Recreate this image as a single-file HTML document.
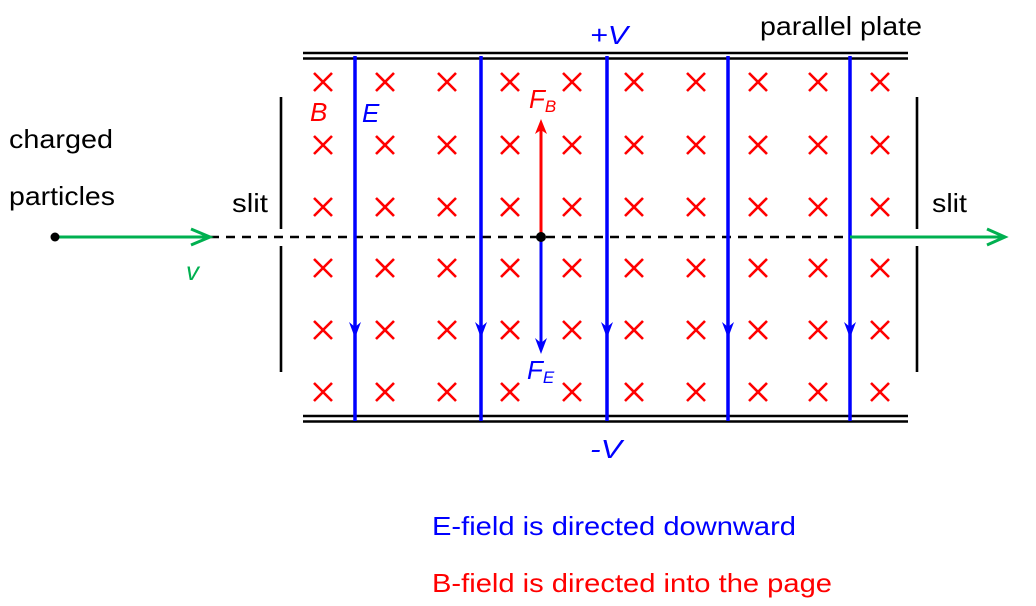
<!DOCTYPE html>
<html><head><meta charset="utf-8"><style>
html,body{margin:0;padding:0;background:#fff;width:1036px;height:606px;overflow:hidden}
svg{display:block}
text{font-family:"Liberation Sans",Arial,sans-serif;font-size:26px}
</style></head><body>
<svg width="1036" height="606" viewBox="0 0 1036 606" xmlns="http://www.w3.org/2000/svg">
<defs>
<g id="x"><path d="M-9,-9L9,9M9,-9L-9,9" stroke="#ff0000" stroke-width="2.6" fill="none"/></g>
<g id="ah"><path d="M-6,-12L0,4L6,-12L0,-7Z" fill="#0000ff"/></g>
</defs>
<g stroke="#000" stroke-width="2.6">
<line x1="303" y1="53" x2="908" y2="53"/><line x1="303" y1="58.5" x2="908" y2="58.5"/>
<line x1="303" y1="416" x2="908" y2="416"/><line x1="303" y1="421.5" x2="908" y2="421.5"/>
<line x1="281" y1="97" x2="281" y2="229"/><line x1="281" y1="246" x2="281" y2="372"/>
<line x1="917" y1="97" x2="917" y2="229"/><line x1="917" y1="246" x2="917" y2="372"/>
</g>
<g>
<use href="#x" x="323" y="82"/><use href="#x" x="385" y="82"/><use href="#x" x="447" y="82"/><use href="#x" x="510" y="82"/><use href="#x" x="572" y="82"/><use href="#x" x="634" y="82"/><use href="#x" x="696" y="82"/><use href="#x" x="758" y="82"/><use href="#x" x="818" y="82"/><use href="#x" x="880" y="82"/>
<use href="#x" x="323" y="145"/><use href="#x" x="385" y="145"/><use href="#x" x="447" y="145"/><use href="#x" x="510" y="145"/><use href="#x" x="572" y="145"/><use href="#x" x="634" y="145"/><use href="#x" x="696" y="145"/><use href="#x" x="758" y="145"/><use href="#x" x="818" y="145"/><use href="#x" x="880" y="145"/>
<use href="#x" x="323" y="207"/><use href="#x" x="385" y="207"/><use href="#x" x="447" y="207"/><use href="#x" x="510" y="207"/><use href="#x" x="572" y="207"/><use href="#x" x="634" y="207"/><use href="#x" x="696" y="207"/><use href="#x" x="758" y="207"/><use href="#x" x="818" y="207"/><use href="#x" x="880" y="207"/>
<use href="#x" x="323" y="268"/><use href="#x" x="385" y="268"/><use href="#x" x="447" y="268"/><use href="#x" x="510" y="268"/><use href="#x" x="572" y="268"/><use href="#x" x="634" y="268"/><use href="#x" x="696" y="268"/><use href="#x" x="758" y="268"/><use href="#x" x="818" y="268"/><use href="#x" x="880" y="268"/>
<use href="#x" x="323" y="330"/><use href="#x" x="385" y="330"/><use href="#x" x="447" y="330"/><use href="#x" x="510" y="330"/><use href="#x" x="572" y="330"/><use href="#x" x="634" y="330"/><use href="#x" x="696" y="330"/><use href="#x" x="758" y="330"/><use href="#x" x="818" y="330"/><use href="#x" x="880" y="330"/>
<use href="#x" x="323" y="392"/><use href="#x" x="385" y="392"/><use href="#x" x="447" y="392"/><use href="#x" x="510" y="392"/><use href="#x" x="572" y="392"/><use href="#x" x="634" y="392"/><use href="#x" x="696" y="392"/><use href="#x" x="758" y="392"/><use href="#x" x="818" y="392"/><use href="#x" x="880" y="392"/>
</g>
<line x1="210" y1="237" x2="850" y2="237" stroke="#000" stroke-width="2.6" stroke-dasharray="9,7"/>
<g stroke="#0000ff" stroke-width="3.5">
<line x1="355" y1="56" x2="355" y2="421"/><line x1="481" y1="56" x2="481" y2="421"/><line x1="607" y1="56" x2="607" y2="421"/><line x1="728" y1="56" x2="728" y2="421"/><line x1="850" y1="56" x2="850" y2="421"/>
</g>
<use href="#ah" x="355" y="334"/><use href="#ah" x="481" y="334"/><use href="#ah" x="607" y="334"/><use href="#ah" x="728" y="334"/><use href="#ah" x="850" y="334"/>
<g stroke="#00b050" stroke-width="3" fill="none">
<line x1="55" y1="237" x2="210" y2="237"/><path d="M191,229L210,237L191,245"/>
<line x1="850" y1="237" x2="1005" y2="237"/><path d="M987,229L1005,237L987,245"/>
</g>
<circle cx="55" cy="237" r="4.5" fill="#000"/>
<line x1="541" y1="237" x2="541" y2="130" stroke="#ff0000" stroke-width="3"/>
<path d="M535,134L541,119L547,134L541,130Z" fill="#ff0000"/>
<line x1="541" y1="237" x2="541" y2="345" stroke="#0000ff" stroke-width="3"/>
<use href="#ah" x="541" y="350"/>
<circle cx="541" cy="237" r="5" fill="#000"/>
<text x="9" y="148" textLength="104" lengthAdjust="spacingAndGlyphs">charged</text>
<text x="9" y="205" textLength="106" lengthAdjust="spacingAndGlyphs">particles</text>
<text x="232" y="212" textLength="36" lengthAdjust="spacingAndGlyphs">slit</text>
<text x="932" y="212" textLength="35" lengthAdjust="spacingAndGlyphs">slit</text>
<text x="760" y="35" textLength="162" lengthAdjust="spacingAndGlyphs">parallel  plate</text>
<text x="590" y="44" fill="#0000ff" font-style="italic" textLength="38" lengthAdjust="spacingAndGlyphs">+V</text>
<text x="590" y="458" fill="#0000ff" font-style="italic" textLength="32" lengthAdjust="spacingAndGlyphs">-V</text>
<text x="310" y="121" fill="#ff0000" font-style="italic">B</text>
<text x="362" y="122" fill="#0000ff" font-style="italic">E</text>
<text x="529" y="108" fill="#ff0000" font-style="italic">F<tspan font-size="17" dy="4">B</tspan></text>
<text x="527" y="379" fill="#0000ff" font-style="italic">F<tspan font-size="17" dy="4">E</tspan></text>
<text x="186" y="280" fill="#00b050" font-style="italic">v</text>
<text x="432" y="535" fill="#0000ff" textLength="364" lengthAdjust="spacingAndGlyphs">E-field  is  directed  downward</text>
<text x="432" y="592" fill="#ff0000" textLength="400" lengthAdjust="spacingAndGlyphs">B-field  is  directed  into  the  page</text>
</svg>
</body></html>
